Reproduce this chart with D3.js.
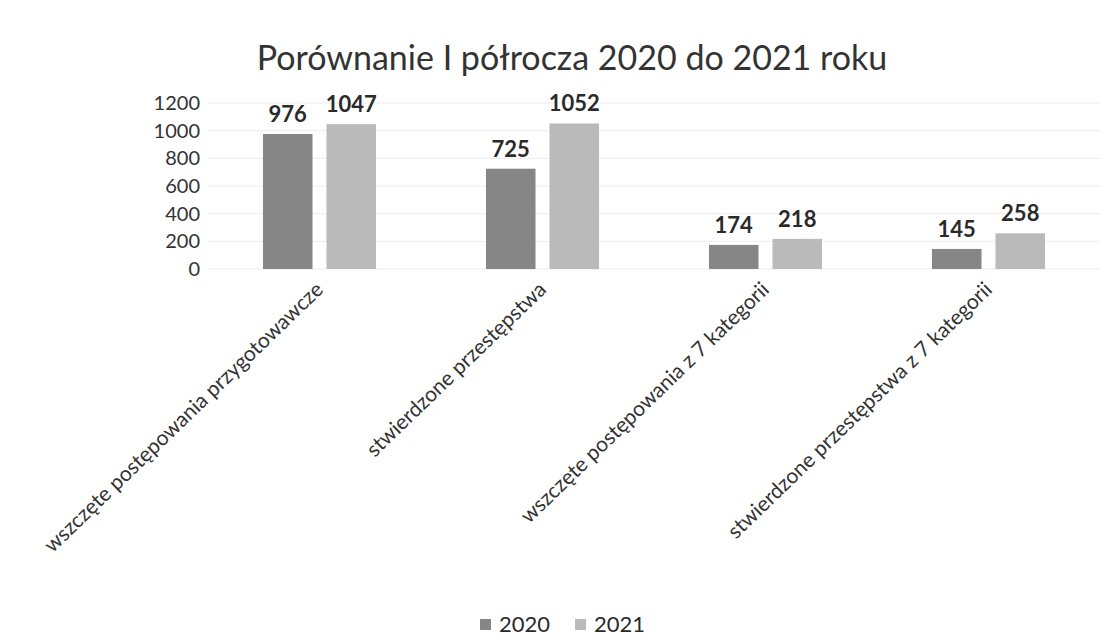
<!DOCTYPE html>
<html>
<head>
    <meta charset="utf-8">
    <title>Porównanie I półrocza 2020 do 2021 roku</title>
    <script src="https://d3js.org/d3.v7.min.js"></script>
    <style>
        body { margin: 0; background: #fff; }
        text { font-family: Lato, "Open Sans", sans-serif; fill: #2b2b2b; }
    </style>
</head>
<body>
<div id="chart"></div>

<script>
const categories = [
    "wszczęte postępowania przygotowawcze",
    "stwierdzone przestępstwa",
    "wszczęte postępowania z 7 kategorii",
    "stwierdzone przestępstwa z 7 kategorii"
];
const years = ["2020", "2021"];
const values2020 = [976, 725, 174, 145];
const values2021 = [1047, 1052, 218, 258];
const yTicks = [0, 200, 400, 600, 800, 1000, 1200];
const colors = ["#868686", "#bababa"];

const width = 1109, height = 643;

const svg = d3.select("#chart")
    .append("svg")
    .attr("width", width)
    .attr("height", height);

// scales
const x0 = d3.scaleBand()
    .domain(categories)
    .range([208, 1100])
    .paddingInner(0.493)
    .paddingOuter(0.2465);

const x1 = d3.scaleBand()
    .domain(years)
    .range([0, x0.bandwidth()])
    .paddingInner(0.22);

const y = d3.scaleLinear()
    .domain([0, 1200])
    .range([269, 103]);

const color = d3.scaleOrdinal().domain(years).range(colors);

// title
svg.append("text")
    .attr("x", 572)
    .attr("y", 70)
    .attr("text-anchor", "middle")
    .style("font-size", "34px")
    .style("fill", "#333")
    .text("Porównanie I półrocza 2020 do 2021 roku");

// gridlines
svg.append("g")
    .selectAll("line")
    .data(yTicks)
    .join("line")
    .attr("x1", 208)
    .attr("x2", 1100)
    .attr("y1", d => y(d))
    .attr("y2", d => y(d))
    .attr("stroke", "#ececec")
    .attr("stroke-width", 1);

// y axis labels
const yAxis = svg.append("g")
    .attr("transform", "translate(208,0)")
    .call(d3.axisLeft(y).tickValues(yTicks).tickFormat(d3.format("d")).tickSize(0).tickPadding(8));
yAxis.select(".domain").remove();
yAxis.selectAll("text")
    .style("font-size", "20px")
    .style("font-family", "Lato, sans-serif")
    .style("fill", "#333");

// bars
const rows = categories.map((c, i) => ({
    category: c,
    values: [
        { year: "2020", value: values2020[i] },
        { year: "2021", value: values2021[i] }
    ]
}));

const groups = svg.append("g")
    .selectAll("g")
    .data(rows)
    .join("g")
    .attr("transform", d => `translate(${x0(d.category)},0)`);

groups.selectAll("rect")
    .data(d => d.values)
    .join("rect")
    .attr("x", d => x1(d.year))
    .attr("y", d => y(d.value))
    .attr("width", x1.bandwidth())
    .attr("height", d => y(0) - y(d.value))
    .attr("fill", d => color(d.year));

groups.selectAll(".val")
    .data(d => d.values)
    .join("text")
    .attr("class", "val")
    .attr("x", d => x1(d.year) + x1.bandwidth() / 2)
    .attr("y", d => y(d.value) - 12)
    .attr("text-anchor", "middle")
    .style("font-size", "22px")
    .style("font-weight", "bold")
    .style("fill", "#2a2a2a")
    .text(d => d.value);

// category labels
svg.append("g")
    .selectAll("text")
    .data(categories)
    .join("text")
    .attr("text-anchor", "end")
    .attr("transform", d => `translate(${x0(d) + x0.bandwidth() / 2 + 5},${291}) rotate(-44)`)
    .style("font-size", "21px")
    .style("fill", "#333")
    .text(d => d);

// legend
const legend = svg.append("g")
    .selectAll("g")
    .data(years)
    .join("g")
    .attr("transform", (d, i) => `translate(${480 + i * 95},619)`);

legend.append("rect")
    .attr("width", 11)
    .attr("height", 11)
    .attr("fill", d => color(d));

legend.append("text")
    .attr("x", 19)
    .attr("y", 13)
    .style("font-size", "22px")
    .style("fill", "#2a2a2a")
    .text(d => d);
</script>
</body>
</html>
